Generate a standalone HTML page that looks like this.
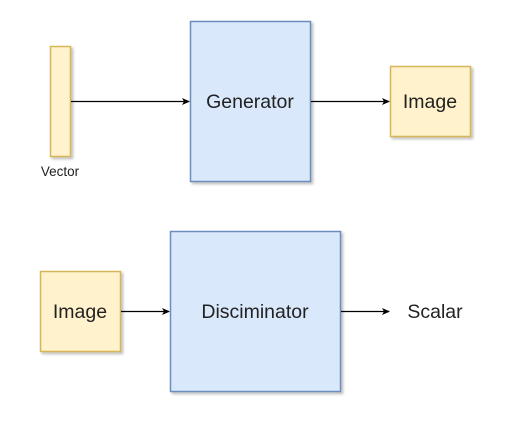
<!DOCTYPE html>
<html><head><style>body{margin:0;background:#fff}</style></head><body>
<svg width="512" height="423" xmlns="http://www.w3.org/2000/svg" font-family="Liberation Sans, sans-serif">
<defs><filter id="s" x="-10%" y="-10%" width="130%" height="130%"><feDropShadow dx="2" dy="2" stdDeviation="1.2" flood-opacity="0.25"/></filter>
<marker id="a" markerWidth="8" markerHeight="8" refX="7" refY="4" orient="auto" markerUnits="userSpaceOnUse"><path d="M0,0.5 L8,4 L0,7.5 L2,4 Z" fill="#000"/></marker></defs>
<g filter="url(#s)" stroke-width="1.5">
<rect x="50.5" y="46.5" width="20" height="110" fill="#fff2cc" stroke="#d6b656"/>
<rect x="190.5" y="21.5" width="120" height="160" fill="#dae8fc" stroke="#6c8ebf"/>
<rect x="390.5" y="66.5" width="80" height="70" fill="#fff2cc" stroke="#d6b656"/>
<rect x="40.5" y="271.5" width="80" height="80" fill="#fff2cc" stroke="#d6b656"/>
<rect x="170.5" y="231.5" width="170" height="160" fill="#dae8fc" stroke="#6c8ebf"/>
</g>
<g stroke="#000" stroke-width="1.2">
<line x1="71" y1="101.5" x2="189" y2="101.5" marker-end="url(#a)"/>
<line x1="311" y1="101.5" x2="389" y2="101.5" marker-end="url(#a)"/>
<line x1="121" y1="311.5" x2="169" y2="311.5" marker-end="url(#a)"/>
<line x1="341" y1="311.5" x2="389" y2="311.5" marker-end="url(#a)"/>
</g>
<g fill="#222" text-anchor="middle" font-size="19.5">
<text x="250" y="108">Generator</text>
<text x="430" y="108">Image</text>
<text x="80" y="318">Image</text>
<text x="255" y="318">Disciminator</text>
<text x="435" y="318">Scalar</text>
<text x="60" y="176" font-size="13.5">Vector</text>
</g>
</svg>
</body></html>
